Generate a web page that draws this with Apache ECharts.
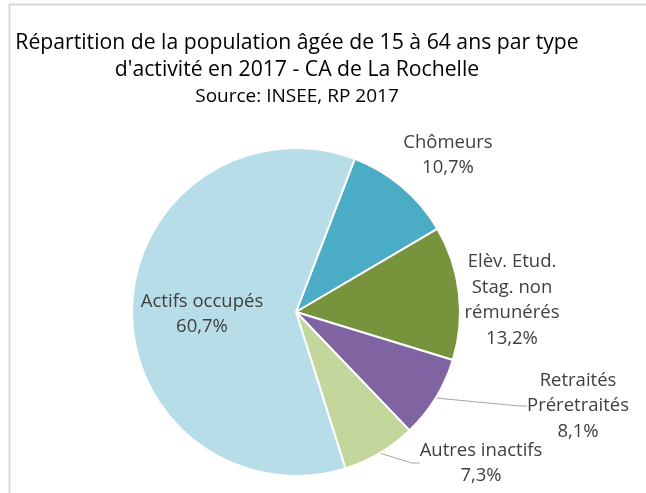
<!DOCTYPE html>
<html><head><meta charset="utf-8">
<script src="https://cdn.jsdelivr.net/npm/echarts@6/dist/echarts.min.js"></script>
<style>html,body{margin:0;padding:0;background:#fff;overflow:hidden}#c{width:646px;height:493px}</style>
</head><body><div id="c"></div>
<script>
const titleLines = ["Répartition de la population âgée de 15 à 64 ans par type", "d'activité en 2017 - CA de La Rochelle"];
const sourceText = "Source: INSEE, RP 2017";
const categories = ["Chômeurs", "Elèv. Etud.\nStag. non\nrémunérés", "Retraités\nPréretraités", "Autres inactifs", "Actifs occupés"];
const values = [10.7, 13.2, 8.1, 7.3, 60.7];
const colors = ["#4BACC6", "#77933C", "#8064A2", "#C3D69B", "#B7DDE8"];
const labelCenters = [[448, 155], [512, 300], [578, 406], [481, 463], [202, 314]];
const showLine = [false, false, true, true, false];

const chart = echarts.init(document.getElementById('c'), null, {renderer: 'canvas'});
const FONT = '"Open Sans", sans-serif';
chart.setOption({
  animation: false,
  graphic: [
    {type: 'polyline', shape: {points: [[9.5, 700], [9.5, 4.5], [900, 4.5]]}, style: {fill: 'none', stroke: '#D9D9D9', lineWidth: 2}, silent: true}
  ],
  title: [
    {text: titleLines.join('\n'), left: 297, top: 29, textAlign: 'center', padding: 0,
     textStyle: {fontFamily: FONT, fontSize: 21.2, fontWeight: 'normal', color: '#000', lineHeight: 27}},
    {text: sourceText, left: 297, top: 85, textAlign: 'center', padding: 0,
     textStyle: {fontFamily: FONT, fontSize: 19, fontWeight: 'normal', color: '#000', lineHeight: 24}}
  ],
  series: [{
    type: 'pie',
    center: [296, 312],
    radius: 164,
    startAngle: 69,
    clockwise: true,
    itemStyle: {borderColor: '#fff', borderWidth: 2},
    label: {
      show: true, position: 'outside', fontFamily: FONT, fontSize: 18.5, color: '#404040', lineHeight: 25.5,
      align: 'center', overflow: 'none',
      formatter: p => p.name + '\n' + p.value.toFixed(1).replace('.', ',') + '%'
    },
    labelLine: {show: true, length: 10, length2: 8, lineStyle: {color: '#A6A6A6', width: 1}},
    labelLayout: p => ({x: labelCenters[p.dataIndex][0], y: labelCenters[p.dataIndex][1], align: 'center', verticalAlign: 'middle'}),
    data: categories.map((c, i) => ({
      name: c, value: values[i],
      itemStyle: {color: colors[i]},
      labelLine: {show: showLine[i]}
    }))
  }]
});
</script></body></html>
